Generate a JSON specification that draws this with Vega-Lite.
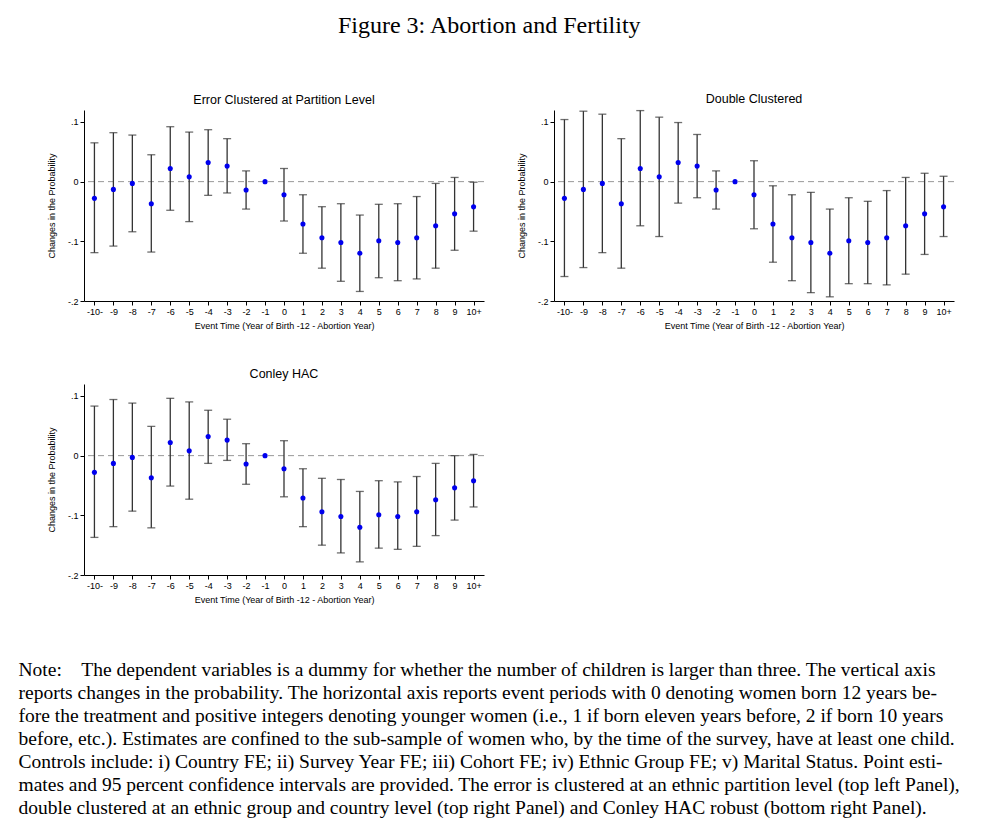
{
  "$schema": "https://vega.github.io/schema/vega-lite/v6.json",
  "background": "white",
  "padding": {"left": 18, "top": 14, "right": 5, "bottom": 0},
  "title": {"text": "Figure 3: Abortion and Fertility", "font": "Liberation Serif", "fontSize": 24, "fontWeight": "normal", "anchor": "middle", "offset": 55, "color": "#000"},
  "datasets": {
    "est": [
      {"panel": "A", "t": "-10-", "est": -0.028, "lo": -0.119, "hi": 0.065},
      {"panel": "A", "t": "-9", "est": -0.013, "lo": -0.108, "hi": 0.082},
      {"panel": "A", "t": "-8", "est": -0.003, "lo": -0.084, "hi": 0.078},
      {"panel": "A", "t": "-7", "est": -0.037, "lo": -0.118, "hi": 0.045},
      {"panel": "A", "t": "-6", "est": 0.022, "lo": -0.048, "hi": 0.092},
      {"panel": "A", "t": "-5", "est": 0.008, "lo": -0.067, "hi": 0.083},
      {"panel": "A", "t": "-4", "est": 0.032, "lo": -0.023, "hi": 0.087},
      {"panel": "A", "t": "-3", "est": 0.026, "lo": -0.019, "hi": 0.072},
      {"panel": "A", "t": "-2", "est": -0.014, "lo": -0.046, "hi": 0.018},
      {"panel": "A", "t": "-1", "est": 0, "lo": null, "hi": null},
      {"panel": "A", "t": "0", "est": -0.022, "lo": -0.066, "hi": 0.022},
      {"panel": "A", "t": "1", "est": -0.071, "lo": -0.120, "hi": -0.022},
      {"panel": "A", "t": "2", "est": -0.094, "lo": -0.145, "hi": -0.042},
      {"panel": "A", "t": "3", "est": -0.102, "lo": -0.167, "hi": -0.037},
      {"panel": "A", "t": "4", "est": -0.120, "lo": -0.184, "hi": -0.056},
      {"panel": "A", "t": "5", "est": -0.099, "lo": -0.161, "hi": -0.038},
      {"panel": "A", "t": "6", "est": -0.102, "lo": -0.166, "hi": -0.037},
      {"panel": "A", "t": "7", "est": -0.094, "lo": -0.163, "hi": -0.025},
      {"panel": "A", "t": "8", "est": -0.074, "lo": -0.145, "hi": -0.003},
      {"panel": "A", "t": "9", "est": -0.054, "lo": -0.115, "hi": 0.007},
      {"panel": "A", "t": "10+", "est": -0.042, "lo": -0.083, "hi": -0.001},

      {"panel": "B", "t": "-10-", "est": -0.028, "lo": -0.159, "hi": 0.104},
      {"panel": "B", "t": "-9", "est": -0.013, "lo": -0.144, "hi": 0.118},
      {"panel": "B", "t": "-8", "est": -0.003, "lo": -0.119, "hi": 0.113},
      {"panel": "B", "t": "-7", "est": -0.037, "lo": -0.145, "hi": 0.072},
      {"panel": "B", "t": "-6", "est": 0.022, "lo": -0.074, "hi": 0.119},
      {"panel": "B", "t": "-5", "est": 0.008, "lo": -0.092, "hi": 0.108},
      {"panel": "B", "t": "-4", "est": 0.032, "lo": -0.036, "hi": 0.099},
      {"panel": "B", "t": "-3", "est": 0.026, "lo": -0.027, "hi": 0.079},
      {"panel": "B", "t": "-2", "est": -0.014, "lo": -0.046, "hi": 0.018},
      {"panel": "B", "t": "-1", "est": 0, "lo": null, "hi": null},
      {"panel": "B", "t": "0", "est": -0.022, "lo": -0.079, "hi": 0.035},
      {"panel": "B", "t": "1", "est": -0.071, "lo": -0.135, "hi": -0.007},
      {"panel": "B", "t": "2", "est": -0.094, "lo": -0.166, "hi": -0.022},
      {"panel": "B", "t": "3", "est": -0.102, "lo": -0.186, "hi": -0.018},
      {"panel": "B", "t": "4", "est": -0.120, "lo": -0.193, "hi": -0.046},
      {"panel": "B", "t": "5", "est": -0.099, "lo": -0.171, "hi": -0.027},
      {"panel": "B", "t": "6", "est": -0.102, "lo": -0.171, "hi": -0.033},
      {"panel": "B", "t": "7", "est": -0.094, "lo": -0.173, "hi": -0.015},
      {"panel": "B", "t": "8", "est": -0.074, "lo": -0.155, "hi": 0.007},
      {"panel": "B", "t": "9", "est": -0.054, "lo": -0.122, "hi": 0.014},
      {"panel": "B", "t": "10+", "est": -0.042, "lo": -0.092, "hi": 0.009},

      {"panel": "C", "t": "-10-", "est": -0.028, "lo": -0.137, "hi": 0.083},
      {"panel": "C", "t": "-9", "est": -0.013, "lo": -0.119, "hi": 0.094},
      {"panel": "C", "t": "-8", "est": -0.003, "lo": -0.093, "hi": 0.088},
      {"panel": "C", "t": "-7", "est": -0.037, "lo": -0.121, "hi": 0.049},
      {"panel": "C", "t": "-6", "est": 0.022, "lo": -0.051, "hi": 0.096},
      {"panel": "C", "t": "-5", "est": 0.008, "lo": -0.073, "hi": 0.090},
      {"panel": "C", "t": "-4", "est": 0.032, "lo": -0.013, "hi": 0.076},
      {"panel": "C", "t": "-3", "est": 0.026, "lo": -0.008, "hi": 0.061},
      {"panel": "C", "t": "-2", "est": -0.014, "lo": -0.048, "hi": 0.020},
      {"panel": "C", "t": "-1", "est": 0, "lo": null, "hi": null},
      {"panel": "C", "t": "0", "est": -0.022, "lo": -0.069, "hi": 0.025},
      {"panel": "C", "t": "1", "est": -0.071, "lo": -0.119, "hi": -0.022},
      {"panel": "C", "t": "2", "est": -0.094, "lo": -0.150, "hi": -0.038},
      {"panel": "C", "t": "3", "est": -0.102, "lo": -0.163, "hi": -0.040},
      {"panel": "C", "t": "4", "est": -0.120, "lo": -0.178, "hi": -0.060},
      {"panel": "C", "t": "5", "est": -0.099, "lo": -0.155, "hi": -0.042},
      {"panel": "C", "t": "6", "est": -0.102, "lo": -0.157, "hi": -0.044},
      {"panel": "C", "t": "7", "est": -0.094, "lo": -0.152, "hi": -0.035},
      {"panel": "C", "t": "8", "est": -0.074, "lo": -0.134, "hi": -0.013},
      {"panel": "C", "t": "9", "est": -0.054, "lo": -0.108, "hi": 0.000},
      {"panel": "C", "t": "10+", "est": -0.042, "lo": -0.086, "hi": 0.002}
    ]
  },
  "vconcat": [
    {
      "title": {
        "text": [
          "Note:\u00a0\u00a0\u00a0\u00a0The dependent variables is a dummy for whether the number of children is larger than three. The vertical axis",
          "reports changes in the probability. The horizontal axis reports event periods with 0 denoting women born 12 years be-",
          "fore the treatment and positive integers denoting younger women (i.e., 1 if born eleven years before, 2 if born 10 years",
          "before, etc.). Estimates are confined to the sub-sample of women who, by the time of the survey, have at least one child.",
          "Controls include: i) Country FE; ii) Survey Year FE; iii) Cohort FE; iv) Ethnic Group FE; v) Marital Status. Point esti-",
          "mates and 95 percent confidence intervals are provided. The error is clustered at an ethnic partition level (top left Panel),",
          "double clustered at an ethnic group and country level (top right Panel) and Conley HAC robust (bottom right Panel)."
        ],
        "orient": "bottom",
        "anchor": "start",
        "font": "Liberation Serif",
        "fontSize": 19.5,
        "fontWeight": "normal",
        "lineHeight": 23,
        "offset": 57,
        "dx": -29,
        "color": "#000"
      },
      "spacing": 37,
      "vconcat": [
        {
          "spacing": 32,
          "hconcat": [
            {
              "title": "Error Clustered at Partition Level",
              "width": 400, "height": 191,
              "layer": [
                {"data": {"values": [{}]}, "mark": {"type": "rule", "color": "#999999", "strokeDash": [6, 4], "strokeWidth": 1}, "encoding": {"y": {"datum": 0, "type": "quantitative"}}},
                {"data": {"name": "est"}, "transform": [{"filter": "datum.panel === 'A' && datum.lo != null"}], "mark": {"type": "rule", "color": "#333333", "strokeWidth": 1.3}, "encoding": {"x": {"field": "t", "type": "ordinal", "scale": {"type": "point", "padding": 0.55, "domain": ["-10-","-9","-8","-7","-6","-5","-4","-3","-2","-1","0","1","2","3","4","5","6","7","8","9","10+"]}}, "y": {"field": "lo", "type": "quantitative"}, "y2": {"field": "hi"}}},
                {"data": {"name": "est"}, "transform": [{"filter": "datum.panel === 'A' && datum.lo != null"}], "mark": {"type": "tick", "color": "#333333", "thickness": 1.3, "size": 8}, "encoding": {"x": {"field": "t", "type": "ordinal", "scale": {"type": "point", "padding": 0.55, "domain": ["-10-","-9","-8","-7","-6","-5","-4","-3","-2","-1","0","1","2","3","4","5","6","7","8","9","10+"]}}, "y": {"field": "lo", "type": "quantitative"}}},
                {"data": {"name": "est"}, "transform": [{"filter": "datum.panel === 'A' && datum.lo != null"}], "mark": {"type": "tick", "color": "#333333", "thickness": 1.3, "size": 8}, "encoding": {"x": {"field": "t", "type": "ordinal", "scale": {"type": "point", "padding": 0.55, "domain": ["-10-","-9","-8","-7","-6","-5","-4","-3","-2","-1","0","1","2","3","4","5","6","7","8","9","10+"]}}, "y": {"field": "hi", "type": "quantitative"}}},
                {"data": {"name": "est"}, "transform": [{"filter": "datum.panel === 'A'"}], "mark": {"type": "circle", "color": "#0000ee", "opacity": 1, "size": 26}, "encoding": {"x": {"field": "t", "type": "ordinal", "title": "Event Time (Year of Birth -12 - Abortion Year)", "scale": {"type": "point", "padding": 0.55, "domain": ["-10-","-9","-8","-7","-6","-5","-4","-3","-2","-1","0","1","2","3","4","5","6","7","8","9","10+"]}}, "y": {"field": "est", "type": "quantitative", "title": "Changes in the Probability", "scale": {"domain": [-0.2, 0.12], "nice": false, "zero": false}, "axis": {"values": [-0.2, -0.1, 0, 0.1]}}}}
              ]
            },
            {
              "title": "Double Clustered",
              "width": 400, "height": 191,
              "layer": [
                {"data": {"values": [{}]}, "mark": {"type": "rule", "color": "#999999", "strokeDash": [6, 4], "strokeWidth": 1}, "encoding": {"y": {"datum": 0, "type": "quantitative"}}},
                {"data": {"name": "est"}, "transform": [{"filter": "datum.panel === 'B' && datum.lo != null"}], "mark": {"type": "rule", "color": "#333333", "strokeWidth": 1.3}, "encoding": {"x": {"field": "t", "type": "ordinal", "scale": {"type": "point", "padding": 0.55, "domain": ["-10-","-9","-8","-7","-6","-5","-4","-3","-2","-1","0","1","2","3","4","5","6","7","8","9","10+"]}}, "y": {"field": "lo", "type": "quantitative"}, "y2": {"field": "hi"}}},
                {"data": {"name": "est"}, "transform": [{"filter": "datum.panel === 'B' && datum.lo != null"}], "mark": {"type": "tick", "color": "#333333", "thickness": 1.3, "size": 8}, "encoding": {"x": {"field": "t", "type": "ordinal", "scale": {"type": "point", "padding": 0.55, "domain": ["-10-","-9","-8","-7","-6","-5","-4","-3","-2","-1","0","1","2","3","4","5","6","7","8","9","10+"]}}, "y": {"field": "lo", "type": "quantitative"}}},
                {"data": {"name": "est"}, "transform": [{"filter": "datum.panel === 'B' && datum.lo != null"}], "mark": {"type": "tick", "color": "#333333", "thickness": 1.3, "size": 8}, "encoding": {"x": {"field": "t", "type": "ordinal", "scale": {"type": "point", "padding": 0.55, "domain": ["-10-","-9","-8","-7","-6","-5","-4","-3","-2","-1","0","1","2","3","4","5","6","7","8","9","10+"]}}, "y": {"field": "hi", "type": "quantitative"}}},
                {"data": {"name": "est"}, "transform": [{"filter": "datum.panel === 'B'"}], "mark": {"type": "circle", "color": "#0000ee", "opacity": 1, "size": 26}, "encoding": {"x": {"field": "t", "type": "ordinal", "title": "Event Time (Year of Birth -12 - Abortion Year)", "scale": {"type": "point", "padding": 0.55, "domain": ["-10-","-9","-8","-7","-6","-5","-4","-3","-2","-1","0","1","2","3","4","5","6","7","8","9","10+"]}}, "y": {"field": "est", "type": "quantitative", "title": "Changes in the Probability", "scale": {"domain": [-0.2, 0.12], "nice": false, "zero": false}, "axis": {"values": [-0.2, -0.1, 0, 0.1]}}}}
              ]
            }
          ]
        },
        {
          "title": "Conley HAC",
          "width": 400, "height": 191,
          "layer": [
            {"data": {"values": [{}]}, "mark": {"type": "rule", "color": "#999999", "strokeDash": [6, 4], "strokeWidth": 1}, "encoding": {"y": {"datum": 0, "type": "quantitative"}}},
            {"data": {"name": "est"}, "transform": [{"filter": "datum.panel === 'C' && datum.lo != null"}], "mark": {"type": "rule", "color": "#333333", "strokeWidth": 1.3}, "encoding": {"x": {"field": "t", "type": "ordinal", "scale": {"type": "point", "padding": 0.55, "domain": ["-10-","-9","-8","-7","-6","-5","-4","-3","-2","-1","0","1","2","3","4","5","6","7","8","9","10+"]}}, "y": {"field": "lo", "type": "quantitative"}, "y2": {"field": "hi"}}},
            {"data": {"name": "est"}, "transform": [{"filter": "datum.panel === 'C' && datum.lo != null"}], "mark": {"type": "tick", "color": "#333333", "thickness": 1.3, "size": 8}, "encoding": {"x": {"field": "t", "type": "ordinal", "scale": {"type": "point", "padding": 0.55, "domain": ["-10-","-9","-8","-7","-6","-5","-4","-3","-2","-1","0","1","2","3","4","5","6","7","8","9","10+"]}}, "y": {"field": "lo", "type": "quantitative"}}},
            {"data": {"name": "est"}, "transform": [{"filter": "datum.panel === 'C' && datum.lo != null"}], "mark": {"type": "tick", "color": "#333333", "thickness": 1.3, "size": 8}, "encoding": {"x": {"field": "t", "type": "ordinal", "scale": {"type": "point", "padding": 0.55, "domain": ["-10-","-9","-8","-7","-6","-5","-4","-3","-2","-1","0","1","2","3","4","5","6","7","8","9","10+"]}}, "y": {"field": "hi", "type": "quantitative"}}},
            {"data": {"name": "est"}, "transform": [{"filter": "datum.panel === 'C'"}], "mark": {"type": "circle", "color": "#0000ee", "opacity": 1, "size": 26}, "encoding": {"x": {"field": "t", "type": "ordinal", "title": "Event Time (Year of Birth -12 - Abortion Year)", "scale": {"type": "point", "padding": 0.55, "domain": ["-10-","-9","-8","-7","-6","-5","-4","-3","-2","-1","0","1","2","3","4","5","6","7","8","9","10+"]}}, "y": {"field": "est", "type": "quantitative", "title": "Changes in the Probability", "scale": {"domain": [-0.2, 0.12], "nice": false, "zero": false}, "axis": {"values": [-0.2, -0.1, 0, 0.1]}}}}
          ]
        }
      ]
    }
  ],
  "resolve": {"scale": {"x": "independent", "y": "independent"}},
  "config": {
    "font": "Liberation Sans",
    "view": {"stroke": null},
    "title": {"fontSize": 12.5, "fontWeight": "normal", "color": "#000", "offset": 4},
    "axis": {"grid": false, "domainColor": "#000", "tickColor": "#000", "labelColor": "#000", "titleColor": "#000", "labelFontSize": 9, "titleFontSize": 9, "titleFontWeight": "normal", "tickSize": 4, "labelPadding": 2},
    "axisX": {"labelAngle": 0, "titlePadding": 5},
    "axisY": {"labelExpr": "datum.value > 0.05 ? '.1' : datum.value > -0.05 ? '0' : datum.value > -0.15 ? '-.1' : '-.2'", "titlePadding": 11}
  }
}
